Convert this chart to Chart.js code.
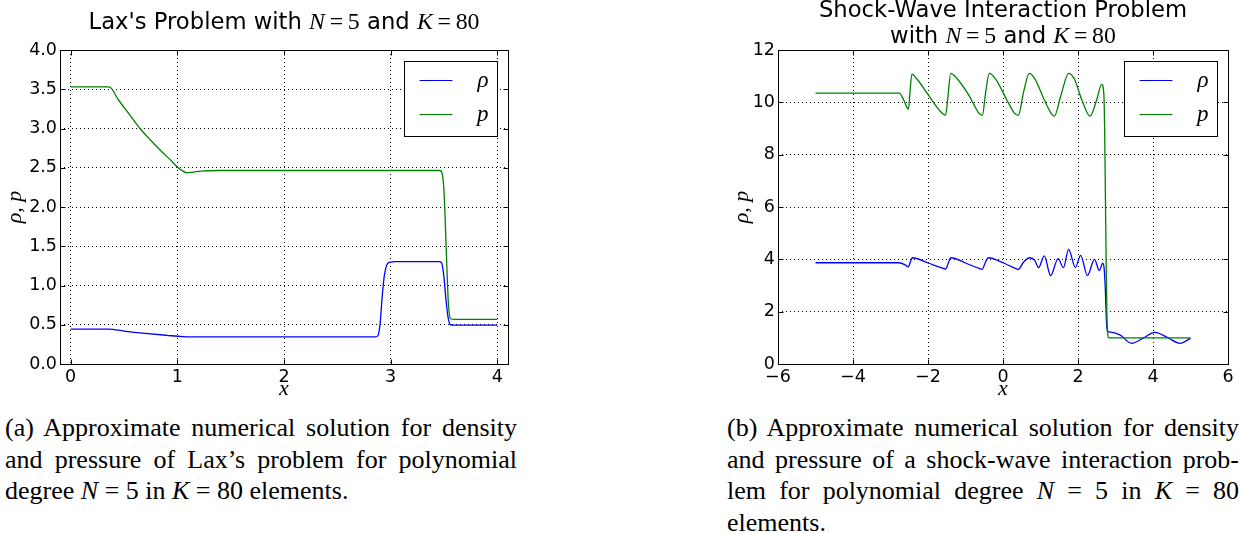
<!DOCTYPE html>
<html>
<head>
<meta charset="utf-8">
<script src="https://cdn.jsdelivr.net/npm/chart.js@4.4.0/dist/chart.umd.min.js"></script>
<style>
  html, body { margin: 0; padding: 0; background: #fff; }
  body { width: 1239px; height: 533px; overflow: hidden; position: relative; }
  canvas { position: absolute; top: 0; }
  #laxChart { left: 0; }
  #shockChart { left: 700px; }
  .caption { position: absolute; top: 412px; width: 512px; font-family: "Liberation Serif", serif; font-size: 26px; line-height: 31.5px; color: #000; }
  .caption div { text-align: justify; text-align-last: justify; }
  .caption div.last { text-align-last: left; }
  #capA { left: 5px; }
  #capB { left: 727px; }
</style>
</head>
<body>
<canvas id="laxChart" width="530" height="400"></canvas>
<canvas id="shockChart" width="539" height="400"></canvas>

<div class="caption" id="capA">
  <div>(a) Approximate numerical solution for density</div>
  <div>and pressure of Lax’s problem for polynomial</div>
  <div class="last">degree <i>N</i> = 5 in <i>K</i> = 80 elements.</div>
</div>
<div class="caption" id="capB">
  <div>(b) Approximate numerical solution for density</div>
  <div>and pressure of a shock-wave interaction prob-</div>
  <div>lem for polynomial degree <i>N</i> = 5 in <i>K</i> = 80</div>
  <div class="last">elements.</div>
</div>

<script>
// Lax's problem
const laxRhoX = [0, 0.36, 0.5, 0.7, 0.9, 1.05, 1.15, 2.0, 2.86, 2.88, 2.9, 2.92, 2.94, 2.96, 2.99, 3.05, 3.46, 3.48, 3.5, 3.52, 3.54, 3.56, 3.6, 4.0];
const laxRho = [0.445, 0.445, 0.42, 0.39, 0.365, 0.348, 0.345, 0.345, 0.345, 0.36, 0.5, 0.85, 1.12, 1.25, 1.295, 1.305, 1.305, 1.28, 1.1, 0.8, 0.58, 0.5, 0.495, 0.495];
const laxPX = [0, 0.36, 0.45, 0.55, 0.65, 0.75, 0.85, 0.95, 1.0, 1.05, 1.09, 1.15, 1.25, 1.4, 2.0, 3.0, 3.46, 3.48, 3.5, 3.52, 3.54, 3.56, 3.6, 4.0];
const laxP = [3.53, 3.53, 3.36, 3.18, 3.0, 2.85, 2.71, 2.58, 2.51, 2.46, 2.435, 2.445, 2.46, 2.465, 2.465, 2.465, 2.465, 2.44, 2.2, 1.5, 0.8, 0.58, 0.568, 0.568];

// shock-wave interaction problem, right panel
const shockRhoX = [-5.0, -2.77, -2.6, -2.525, -2.47, -2.42, -2.0, -1.65, -1.53, -1.46, -1.39, -1.0, -0.65, -0.55, -0.48, -0.39, 0.0, 0.3, 0.41, 0.55, 0.72, 0.85, 0.95, 1.1, 1.27, 1.47, 1.61, 1.75, 1.93, 2.07, 2.25, 2.44, 2.57, 2.66, 2.7, 2.73, 2.76, 2.79, 2.83, 3.12, 3.43, 3.75, 4.05, 4.4, 4.72, 5.0];
const shockRho = [3.87, 3.87, 3.78, 3.71, 3.9, 4.06, 3.86, 3.68, 3.63, 3.85, 4.06, 3.86, 3.66, 3.62, 3.85, 4.06, 3.87, 3.67, 3.62, 3.9, 4.06, 3.95, 3.68, 4.13, 3.38, 4.03, 3.68, 4.38, 3.69, 4.15, 3.38, 4.0, 3.57, 3.85, 3.6, 2.8, 1.6, 1.25, 1.23, 1.11, 0.79, 1.0, 1.21, 1.0, 0.79, 0.98];
const shockPX = [-5.0, -2.77, -2.65, -2.55, -2.52, -2.48, -2.43, -2.3, -2.0, -1.7, -1.53, -1.47, -1.395, -1.25, -0.9, -0.65, -0.55, -0.47, -0.365, -0.2, 0.1, 0.3, 0.41, 0.55, 0.7, 0.85, 1.1, 1.3, 1.37, 1.55, 1.75, 1.9, 2.1, 2.32, 2.5, 2.63, 2.69, 2.71, 2.73, 2.75, 2.77, 2.79, 2.82, 5.0];
const shockP = [10.35, 10.35, 10.1, 9.78, 9.74, 10.4, 11.08, 10.9, 10.3, 9.7, 9.51, 10.2, 11.11, 10.95, 10.25, 9.6, 9.5, 10.3, 11.11, 10.9, 10.1, 9.6, 9.5, 10.4, 11.11, 10.9, 10.1, 9.55, 9.47, 10.3, 11.11, 10.9, 10.1, 9.47, 10.1, 10.69, 10.3, 9.0, 6.5, 4.0, 2.0, 1.2, 1.0, 1.0];

// tick values
const laxXTicks = [0, 1, 2, 3, 4];
const laxYTicks = [0, 0.5, 1, 1.5, 2, 2.5, 3, 3.5, 4];
const shockXTicks = [-6, -4, -2, 0, 2, 4, 6];
const shockYTicks = [0, 2, 4, 6, 8, 10, 12];

const seriesLabels = ['ρ', 'p'];

const SANS = '"DejaVu Sans"';
const SERIF = '"Liberation Serif"';
const titleFont = '22.7px ' + SANS;
const mathIt = 'italic 23.8px ' + SERIF;
const mathRm = '23.8px ' + SERIF;

const pairs = (xs, ys) => xs.map((x, i) => ({x, y: ys[i]}));

function mathEq(name, value) {
    return [[name, mathIt], ['\u2009=\u2009', mathRm], [value, mathRm]];
}

function drawRuns(ctx, runs, cx, baseY) {
    let total = 0;
    runs.forEach(r => { ctx.font = r[1]; total += ctx.measureText(r[0]).width; });
    let x = cx - total / 2;
    ctx.textAlign = 'left';
    ctx.textBaseline = 'alphabetic';
    runs.forEach(r => {
        ctx.font = r[1];
        ctx.fillText(r[0], x, baseY);
        x += ctx.measureText(r[0]).width;
    });
}

// frame, inward ticks, titles, axis labels and legend, matplotlib style
const decorPlugin = {
    id: 'decor',
    afterDraw(chart, args, opts) {
        const {ctx, chartArea: a, scales: {x, y}} = chart;
        const left = Math.round(a.left) + 0.5, right = Math.round(a.right) + 0.5;
        const top = Math.round(a.top) + 0.5, bottom = Math.round(a.bottom) + 0.5;
        ctx.save();
        ctx.strokeStyle = '#000';
        ctx.lineWidth = 1;
        ctx.setLineDash([]);
        ctx.beginPath();
        x.ticks.forEach(t => {
            const px = Math.round(x.getPixelForValue(t.value)) + 0.5;
            ctx.moveTo(px, bottom); ctx.lineTo(px, bottom - 5);
            ctx.moveTo(px, top); ctx.lineTo(px, top + 5);
        });
        y.ticks.forEach(t => {
            const py = Math.round(y.getPixelForValue(t.value)) + 0.5;
            ctx.moveTo(left, py); ctx.lineTo(left + 5, py);
            ctx.moveTo(right, py); ctx.lineTo(right - 5, py);
        });
        ctx.stroke();
        ctx.strokeRect(left, top, right - left, bottom - top);

        ctx.fillStyle = '#000';
        const cx = (a.left + a.right) / 2;
        opts.title.forEach((line, i) => drawRuns(ctx, line, cx, opts.titleBase[i]));

        drawRuns(ctx, [['x', 'italic 22px ' + SERIF]], cx, a.bottom + 31);

        ctx.save();
        ctx.translate(opts.yLabelX, (a.top + a.bottom) / 2);
        ctx.rotate(-Math.PI / 2);
        drawRuns(ctx, [['ρ, p', 'italic 22px ' + SERIF]], 0, 6);
        ctx.restore();

        // legend box
        const bw = 93, bh = 75;
        const bx = Math.round(a.right - 11 - bw) + 0.5, by = Math.round(a.top + 11) + 0.5;
        ctx.fillStyle = '#fff';
        ctx.fillRect(bx, by, bw, bh);
        ctx.strokeStyle = '#000';
        ctx.lineWidth = 1;
        ctx.strokeRect(bx, by, bw, bh);
        chart.data.datasets.forEach((ds, i) => {
            const ly = by + 19 + i * 34;
            ctx.strokeStyle = ds.borderColor;
            ctx.lineWidth = 1.1;
            ctx.beginPath();
            ctx.moveTo(bx + 15, ly);
            ctx.lineTo(bx + 48, ly);
            ctx.stroke();
            ctx.fillStyle = '#000';
            ctx.font = 'italic 23px ' + SERIF;
            ctx.textAlign = 'right';
            ctx.textBaseline = 'alphabetic';
            ctx.fillText(ds.label, bx + 84, ly + 6);
        });
        ctx.restore();
    }
};

function makeChart(id, cfg) {
    const tickFont = {family: 'DejaVu Sans', size: 17.5};
    const ctx = document.getElementById(id).getContext('2d');
    return new Chart(ctx, {
        type: 'line',
        data: {
            datasets: [
                {label: seriesLabels[0], data: cfg.rho, borderColor: '#0000ff', borderWidth: 1.3, order: 1},
                {label: seriesLabels[1], data: cfg.p, borderColor: '#008000', borderWidth: 1.3, order: 0}
            ]
        },
        options: {
            responsive: false,
            animation: false,
            devicePixelRatio: 1,
            layout: {autoPadding: false, padding: {top: 50, right: cfg.padRight, left: 0, bottom: 0}},
            elements: {
                point: {radius: 0},
                line: {cubicInterpolationMode: 'monotone', fill: false}
            },
            plugins: {
                legend: {display: false},
                tooltip: {enabled: false},
                decor: {title: cfg.title, titleBase: cfg.titleBase, yLabelX: cfg.yLabelX}
            },
            scales: {
                x: {
                    type: 'linear',
                    min: cfg.xMin, max: cfg.xMax,
                    afterBuildTicks: scale => { scale.ticks = cfg.xTicks.map(v => ({value: v})); },
                    afterFit: scale => { scale.height = 36; },
                    grid: {color: '#000', lineWidth: 1, drawTicks: false, tickLength: 0},
                    border: {display: false, dash: [1, 3]},
                    ticks: {font: tickFont, color: '#000', padding: 3, maxRotation: 0, callback: cfg.xFmt}
                },
                y: {
                    type: 'linear',
                    min: cfg.yMin, max: cfg.yMax,
                    afterBuildTicks: scale => { scale.ticks = cfg.yTicks.map(v => ({value: v})); },
                    afterFit: scale => { scale.width = cfg.yWidth; },
                    grid: {color: '#000', lineWidth: 1, drawTicks: false, tickLength: 0},
                    border: {display: false, dash: [1, 3]},
                    ticks: {font: tickFont, color: '#000', padding: 3, callback: cfg.yFmt}
                }
            }
        },
        plugins: [decorPlugin]
    });
}

makeChart('laxChart', {
    rho: pairs(laxRhoX, laxRho),
    p: pairs(laxPX, laxP),
    xMin: -0.1, xMax: 4.1, yMin: 0, yMax: 4,
    xTicks: laxXTicks, yTicks: laxYTicks,
    xFmt: v => String(v),
    yFmt: v => v.toFixed(1),
    yWidth: 60, padRight: 22,
    yLabelX: 15,
    title: [[["Lax's Problem with ", titleFont], ...mathEq('N', '5'), [' and ', titleFont], ...mathEq('K', '80')]],
    titleBase: [28.5]
});

makeChart('shockChart', {
    rho: pairs(shockRhoX, shockRho),
    p: pairs(shockPX, shockP),
    xMin: -6, xMax: 6, yMin: 0, yMax: 12,
    xTicks: shockXTicks, yTicks: shockYTicks,
    xFmt: v => (v < 0 ? '\u2212' + Math.abs(v) : String(v)),
    yFmt: v => String(v),
    yWidth: 78, padRight: 11,
    yLabelX: 42,
    title: [
        [['Shock-Wave Interaction Problem', titleFont]],
        [['with ', titleFont], ...mathEq('N', '5'), [' and ', titleFont], ...mathEq('K', '80')]
    ],
    titleBase: [17, 43]
});
</script>
</body>
</html>
